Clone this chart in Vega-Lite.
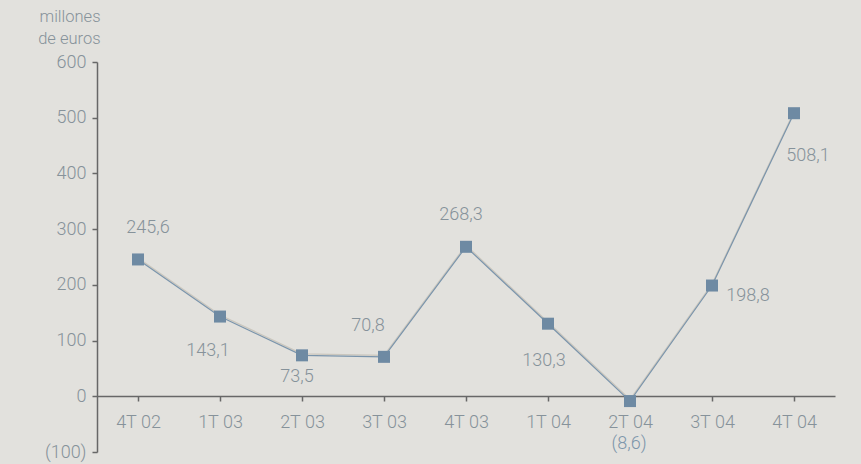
{
  "$schema": "https://vega.github.io/schema/vega-lite/v6.json",
  "autosize": {"type": "none"},
  "width": 738,
  "height": 390,
  "padding": {"left": 97, "top": 62, "right": 26, "bottom": 12},
  "background": "#e2e1dd",
  "config": {
    "view": {"stroke": null},
    "font": "Roboto",
    "text": {"font": "Roboto", "fontSize": 18, "fontWeight": 300, "color": "#86929a", "align": "center", "baseline": "middle"}
  },
  "data": {
    "values": [
      {"q": "4T 02", "v": 245.6},
      {"q": "1T 03", "v": 143.1},
      {"q": "2T 03", "v": 73.5},
      {"q": "3T 03", "v": 70.8},
      {"q": "4T 03", "v": 268.3},
      {"q": "1T 04", "v": 130.3},
      {"q": "2T 04", "v": -8.6},
      {"q": "3T 04", "v": 198.8},
      {"q": "4T 04", "v": 508.1}
    ]
  },
  "transform": [
    {"calculate": "datum.v < 0 ? '(' + replace(format(-datum.v, '.1f'), '.', ',') + ')' : replace(format(datum.v, '.1f'), '.', ',')", "as": "lbl"}
  ],
  "encoding": {
    "x": {
      "field": "q", "type": "ordinal", "sort": null,
      "scale": {"paddingInner": 0, "paddingOuter": 0},
      "axis": {
        "title": null, "labelAngle": 0, "offset": -56, "bandPosition": 0,
        "domainColor": "#676767", "domainWidth": 1.5, "tickColor": "#676767", "tickWidth": 1.5, "tickSize": 5,
        "labelFont": "Roboto", "labelFontWeight": 300, "labelFontSize": 18, "labelColor": "#86929a", "labelPadding": 12
      }
    },
    "y": {
      "field": "v", "type": "quantitative",
      "scale": {"domain": [-100, 600], "nice": false, "zero": false},
      "axis": {
        "values": [-100, 0, 100, 200, 300, 400, 500, 600],
        "grid": false,
        "labelExpr": "datum.value < 0 ? '(' + (-datum.value) + ')' : datum.label",
        "domainColor": "#676767", "domainWidth": 1.5, "tickColor": "#676767", "tickWidth": 1.5, "tickSize": 5,
        "labelFont": "Roboto", "labelFontWeight": 300, "labelFontSize": 18, "labelColor": "#86929a", "labelPadding": 6,
        "title": ["millones", "de euros"],
        "titleAngle": 0, "titleAlign": "right", "titleBaseline": "top", "titleX": 3, "titleY": -54,
        "titleFont": "Roboto", "titleFontWeight": 300, "titleFontSize": 16.5, "titleColor": "#86929a", "titleLineHeight": 22
      }
    }
  },
  "layer": [
    {"mark": {"type": "line", "color": "#cac6bd", "strokeWidth": 1.3, "yOffset": -1.5}},
    {"mark": {"type": "line", "color": "#7a94ab", "strokeWidth": 1.2}},
    {"mark": {"type": "point", "shape": "square", "filled": true, "size": 144, "color": "#6e8aa3", "opacity": 1}},
    {"transform": [{"filter": "datum.q == '4T 02'"}], "mark": {"type": "text", "dx": 10, "dy": -31}, "encoding": {"text": {"field": "lbl"}}},
    {"transform": [{"filter": "datum.q == '1T 03'"}], "mark": {"type": "text", "dx": -12, "dy": 34}, "encoding": {"text": {"field": "lbl"}}},
    {"transform": [{"filter": "datum.q == '2T 03'"}], "mark": {"type": "text", "dx": -5, "dy": 22}, "encoding": {"text": {"field": "lbl"}}},
    {"transform": [{"filter": "datum.q == '3T 03'"}], "mark": {"type": "text", "dx": -16, "dy": -31}, "encoding": {"text": {"field": "lbl"}}},
    {"transform": [{"filter": "datum.q == '4T 03'"}], "mark": {"type": "text", "dx": -5, "dy": -32}, "encoding": {"text": {"field": "lbl"}}},
    {"transform": [{"filter": "datum.q == '1T 04'"}], "mark": {"type": "text", "dx": -4, "dy": 37}, "encoding": {"text": {"field": "lbl"}}},
    {"transform": [{"filter": "datum.q == '2T 04'"}], "mark": {"type": "text", "dx": -1, "dy": 43, "color": "#7d96ab"}, "encoding": {"text": {"field": "lbl"}}},
    {"transform": [{"filter": "datum.q == '3T 04'"}], "mark": {"type": "text", "dx": 36, "dy": 10}, "encoding": {"text": {"field": "lbl"}}},
    {"transform": [{"filter": "datum.q == '4T 04'"}], "mark": {"type": "text", "dx": 14, "dy": 43}, "encoding": {"text": {"field": "lbl"}}}
  ]
}
